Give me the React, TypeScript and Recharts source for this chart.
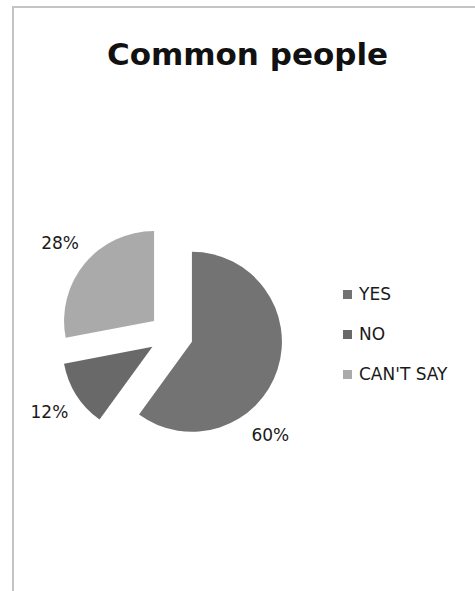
import React from 'react';
import { PieChart, Pie, Cell, Sector, Legend } from 'recharts';

const CATEGORIES = ['YES', 'NO', "CAN'T SAY"];
const SHARES = [60, 12, 28];
const COLORS = ['#737373', '#696969', '#aaaaaa'];

const data = CATEGORIES.map((name, i) => ({ name, value: SHARES[i] }));

const RADIAN = Math.PI / 180;
const EXPLODE = 22;
const LABEL_GAP = 32;
// excel's "best fit" pushes the big slice's label further round
const LABEL_TURN: Record<string, number> = { YES: -32 };
const FONT = '"DejaVu Sans", sans-serif';

function shift(cx: number, cy: number, angle: number, r: number) {
  return [cx + r * Math.cos(-angle * RADIAN), cy + r * Math.sin(-angle * RADIAN)];
}

const ExplodedSector = (props: any) => {
  const { cx, cy, midAngle, innerRadius, outerRadius, startAngle, endAngle, fill } = props;
  const [x, y] = shift(cx, cy, midAngle, EXPLODE);
  return (
    <Sector
      cx={x}
      cy={y}
      innerRadius={innerRadius}
      outerRadius={outerRadius}
      startAngle={startAngle}
      endAngle={endAngle}
      fill={fill}
      stroke="none"
    />
  );
};

const renderLabel = (props: any) => {
  const { cx, cy, midAngle, outerRadius, value } = props;
  const name = props.name ?? props.payload?.name;
  const [ex, ey] = shift(cx, cy, midAngle, EXPLODE);
  const [x, y] = shift(ex, ey, midAngle + (LABEL_TURN[name] || 0), outerRadius + LABEL_GAP);
  return (
    <text x={x} y={y} textAnchor="middle" dominantBaseline="central" fill="#1a1a1a" fontSize={17} fontFamily={FONT}>
      {value}%
    </text>
  );
};

// legend in data order (recharts reverses it for this pie)
const renderLegend = () => (
  <div>
    {CATEGORIES.map((c, i) => (
      <div key={c} style={{ display: 'flex', alignItems: 'center', height: 40 }}>
        <span style={{ width: 9, height: 9, background: COLORS[i], marginRight: 7 }} />
        <span style={{ fontFamily: FONT, fontSize: 17, color: '#1a1a1a' }}>{c}</span>
      </div>
    ))}
  </div>
);

export default function App() {
  return (
    <div
      style={{
        position: 'absolute',
        left: 12,
        top: 6,
        width: 470,
        height: 590,
        borderLeft: '2px solid #c4c4c4',
        borderTop: '2px solid #c4c4c4',
        background: '#fff',
      }}
    >
      <div
        style={{
          position: 'absolute',
          left: 0,
          top: 28,
          width: 467,
          textAlign: 'center',
          fontFamily: FONT,
          fontWeight: 'bold',
          fontSize: 31,
          color: '#111',
        }}
      >
        Common people
      </div>
      <PieChart width={461} height={583} margin={{ top: 0, right: 0, bottom: 0, left: 0 }}>
        <Pie
          data={data}
          dataKey="value"
          nameKey="name"
          cx={157}
          cy={327}
          outerRadius={90}
          startAngle={90}
          endAngle={-270}
          stroke="none"
          shape={ExplodedSector}
          activeShape={ExplodedSector}
          label={renderLabel}
          labelLine={false}
          isAnimationActive={false}
        >
          {data.map((_, i) => (
            <Cell key={i} fill={COLORS[i]} />
          ))}
        </Pie>
        <Legend
          layout="vertical"
          align="right"
          verticalAlign="top"
          content={renderLegend}
          wrapperStyle={{ left: 329, top: 266, width: 130 }}
        />
      </PieChart>
    </div>
  );
}
